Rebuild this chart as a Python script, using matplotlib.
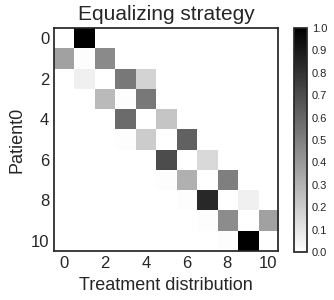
import numpy as np
import matplotlib
matplotlib.use("Agg")
import matplotlib.pyplot as plt

plt.style.use("seaborn-v0_8-white")

title = "Equalizing strategy"
xlabel = "Treatment distribution"
ylabel = "Patient0"
ticks = [0, 2, 4, 6, 8, 10]
cbar_ticks = [0.0, 0.1, 0.2, 0.3, 0.4, 0.5, 0.6, 0.7, 0.8, 0.9, 1.0]

row0 = [0.00, 1.00, 0, 0, 0, 0, 0, 0, 0, 0, 0]
row1 = [0.37, 0.01, 0.46, 0, 0, 0, 0, 0, 0, 0, 0]
row2 = [0.00, 0.06, 0.00, 0.53, 0.17, 0, 0, 0, 0, 0, 0]
row3 = [0, 0.00, 0.27, 0.01, 0.53, 0, 0, 0, 0, 0, 0]
row4 = [0, 0, 0.00, 0.58, 0.00, 0.23, 0, 0, 0, 0, 0]
row5 = [0, 0, 0, 0.01, 0.20, 0.00, 0.62, 0, 0, 0, 0]
row6 = [0, 0, 0, 0, 0.00, 0.70, 0.00, 0.15, 0, 0, 0]
row7 = [0, 0, 0, 0, 0, 0.01, 0.31, 0.00, 0.50, 0, 0]
row8 = [0, 0, 0, 0, 0, 0, 0.01, 0.84, 0.00, 0.06, 0]
row9 = [0, 0, 0, 0, 0, 0, 0, 0.01, 0.45, 0.00, 0.37]
row10 = [0, 0, 0, 0, 0, 0, 0, 0, 0.01, 1.00, 0.00]

matrix = np.array([row0, row1, row2, row3, row4, row5, row6, row7, row8, row9, row10])

fig = plt.figure(figsize=(3.34, 3.0), dpi=100)
ax = fig.add_axes([0.162, 0.163, 0.671, 0.743])
im = ax.imshow(matrix, cmap="gray_r", vmin=0, vmax=1, interpolation="nearest", aspect="auto")
ax.set_xticks(ticks)
ax.set_yticks(ticks)
ax.tick_params(labelsize=12, colors=".15")
ax.set_title(title, fontsize=15, color=".15")
ax.set_xlabel(xlabel, fontsize=13, color=".15")
ax.set_ylabel(ylabel, fontsize=13, color=".15")
for s in ax.spines.values():
    s.set_color(".15")

cax = fig.add_axes([0.880, 0.160, 0.039, 0.747])
cb = fig.colorbar(im, cax=cax, ticks=cbar_ticks)
cb.ax.tick_params(labelsize=8, colors=".15", length=0)
cb.outline.set_edgecolor(".15")

fig.savefig("out.png", dpi=100)
